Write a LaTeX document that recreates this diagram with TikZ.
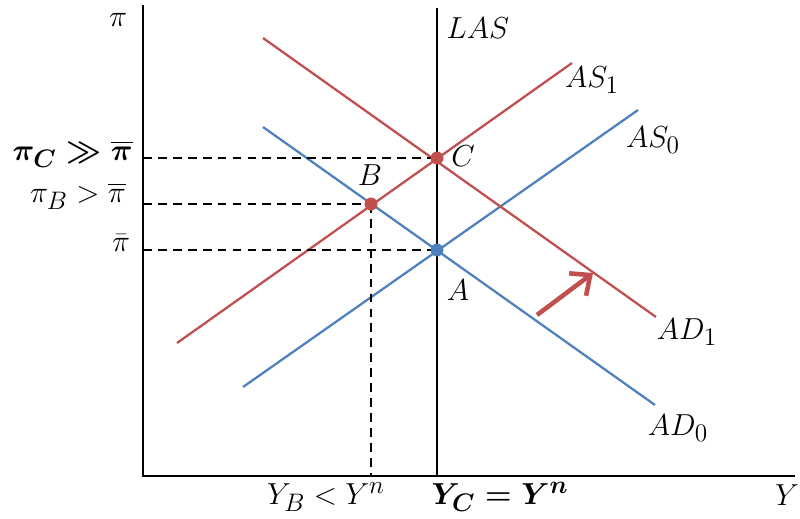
\documentclass[tikz,border=0pt]{standalone}
\usepackage{amsmath,amssymb}
\usepackage{tikz}
\usepackage{xcolor}
\usetikzlibrary{arrows.meta}
\definecolor{asred}{RGB}{192,80,77}
\definecolor{adblue}{RGB}{79,129,189}

\begin{document}
\begin{tikzpicture}[x=0.02cm,y=-0.02cm,every node/.style={font=\fontsize{19}{22}\selectfont},
  axis/.style={line width=1.2pt},
  curve/.style={line width=1.3pt},
  guide/.style={dashed,line width=0.8pt,dash pattern=on 5pt off 3.5pt}]
\useasboundingbox (0,0) rectangle (800,518);
% axes and LAS
\coordinate (O) at (143,476);
\coordinate (ytop) at (143,5);
\coordinate (xend) at (795,476);
\draw[axis] (ytop) -- (O) -- (xend);
\coordinate (lasT) at (437,8);
\coordinate (lasB) at (437,476);
\draw[axis] (lasT) -- (lasB);
% curves
\coordinate (ad0a) at (263,127);
\coordinate (ad0b) at (655,405);
\coordinate (as0a) at (243,387);
\coordinate (as0b) at (638,110);
\coordinate (ad1a) at (263,38);
\coordinate (ad1b) at (656,317);
\coordinate (as1a) at (177,343);
\coordinate (as1b) at (572,63);
\draw[curve,adblue] (ad0a) -- (ad0b);
\draw[curve,adblue] (as0a) -- (as0b);
\draw[curve,asred] (ad1a) -- (ad1b);
\draw[curve,asred] (as1a) -- (as1b);
% equilibria
\coordinate (A) at (437,250);
\coordinate (B) at (371,204);
\coordinate (C) at (437,158);
\coordinate (pA) at (143,250);
\coordinate (pB) at (143,204);
\coordinate (pC) at (143,158);
\coordinate (yB) at (371,476);
\draw[guide] (pC) -- (C);
\draw[guide] (pB) -- (B);
\draw[guide] (pA) -- (A);
\draw[guide] (B) -- (yB);
\fill[adblue] (A) circle (0.13cm);
\fill[asred] (B) circle (0.13cm);
\fill[asred] (C) circle (0.13cm);
% shift of AD
\coordinate (shiftT) at (537,315);
\coordinate (shiftH) at (593,273);
\draw[asred,line width=2.6pt,-{Straight Barb[length=9pt,width=16pt]}] (shiftT) -- (shiftH);
% labels
\node (lpi) at (118,20) {$\pi$};
\node (llas) at (478,28) {$LAS$};
\node (las1) at (592,80) {$AS_1$};
\node (las0) at (653,140) {$AS_0$};
\node (lad1) at (687,332) {$AD_1$};
\node (lad0) at (678,428) {$AD_0$};
\node (lC) at (463,156) {$C$};
\node (lB) at (370,175) {$B$};
\node (lA) at (458,290) {$A$};
\node[anchor=east] (lpC) at (139,154) {$\boldsymbol{\pi_C \gg \overline{\pi}}$};
\node[anchor=east] (lpB) at (132,196) {$\pi_B > \overline{\pi}$};
\node (lpA) at (121,243) {$\bar{\pi}$};
\node (lyB) at (326,497) {$Y_B < Y^n$};
\node (lyC) at (500,497) {$\boldsymbol{Y_C = Y^n}$};
\node (ly) at (787,495) {$Y$};
\end{tikzpicture}
\end{document}
